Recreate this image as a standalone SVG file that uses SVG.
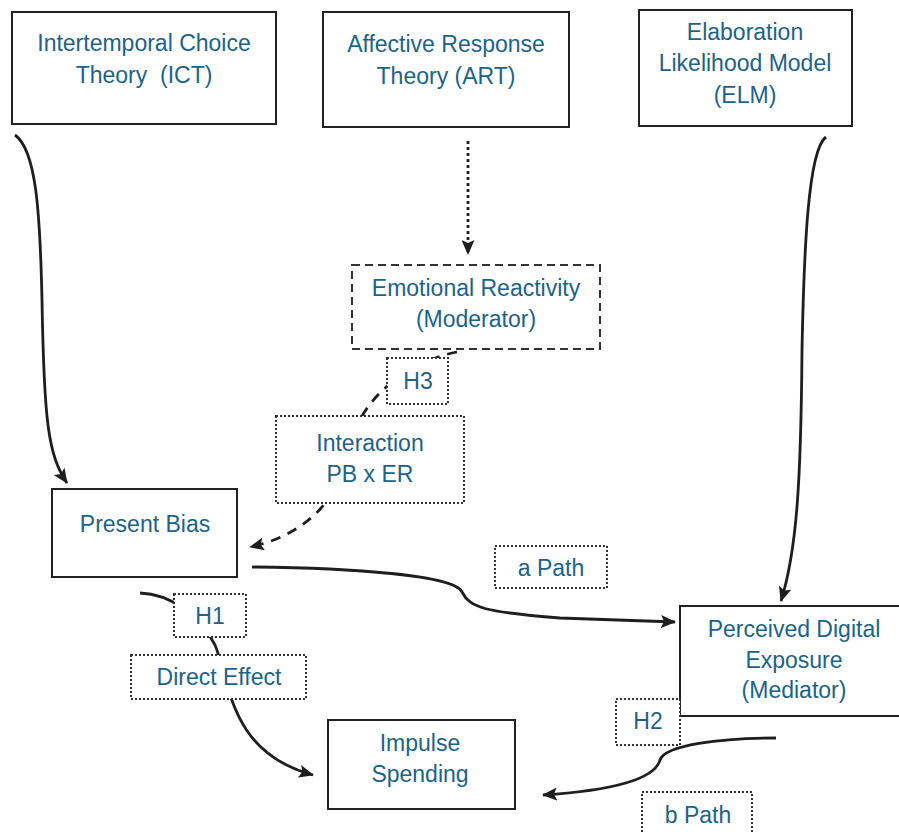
<svg xmlns="http://www.w3.org/2000/svg" width="899" height="832" viewBox="0 0 899 832">
<style>
.box{fill:#fff;stroke:#222;stroke-width:2}
.dash{fill:#fff;stroke:#333;stroke-width:2;stroke-dasharray:8,5}
.dot{fill:#fff;stroke:#333;stroke-width:2;stroke-dasharray:2,2}
.t{font-family:"Liberation Sans",Arial,sans-serif;font-size:23px;fill:#1d6386;text-anchor:middle;dominant-baseline:central}
.c{fill:none;stroke:#1e1e1e;stroke-width:2.8}
</style>
<defs>
<marker id="arr" viewBox="0 0 15 13" refX="14" refY="6.5" markerWidth="15" markerHeight="13" orient="auto" markerUnits="userSpaceOnUse">
<path d="M0,0 L15,6.5 L0,13 L3,6.5 Z" fill="#1e1e1e"/>
</marker>
</defs>
<g id="connectors">
<path class="c" d="M15,135 C36,150 40,210 42,300 C44,420 48,455 67,483" marker-end="url(#arr)"/>
<path class="c" d="M826,137 C808,150 804,250 802,350 C801,480 797,550 781,601" marker-end="url(#arr)"/>
<path class="c" d="M468,141 L468,254" stroke-dasharray="3,3" stroke-width="3" marker-end="url(#arr)"/>
<path class="c" d="M457,352 C405,362 362,400 352,440 C342,500 305,535 250,547" stroke-dasharray="10,8" marker-end="url(#arr)"/>
<path class="c" d="M252,567 C350,568 455,575 462,592 C470,608 485,612 560,618 L675,622" marker-end="url(#arr)"/>
<path class="c" d="M140,593 C170,594 200,615 215,645 C230,680 228,752 313,775" marker-end="url(#arr)"/>
<path class="c" d="M776,738 C720,738 665,745 660,760 C655,778 620,790 543,795" marker-end="url(#arr)"/>
</g>
<g id="ict"><rect class="box" x="12" y="12" width="264" height="112"/><text class="t" x="144" y="43">Intertemporal Choice</text><text class="t" x="144" y="75" xml:space="preserve">Theory  (ICT)</text></g>
<g id="art"><rect class="box" x="323" y="12" width="246" height="115"/><text class="t" x="446" y="44">Affective Response</text><text class="t" x="446" y="76">Theory (ART)</text></g>
<g id="elm"><rect class="box" x="639" y="10" width="213" height="116"/><text class="t" x="745" y="32">Elaboration</text><text class="t" x="745" y="63">Likelihood Model</text><text class="t" x="745" y="95">(ELM)</text></g>
<g id="er"><rect class="dash" x="352" y="265" width="248" height="84"/><text class="t" x="476" y="288">Emotional Reactivity</text><text class="t" x="476" y="319">(Moderator)</text></g>
<g id="h3"><rect class="dot" x="387" y="358" width="61" height="46"/><text class="t" x="418" y="381">H3</text></g>
<g id="interaction"><rect class="dot" x="276" y="416" width="188" height="87"/><text class="t" x="370" y="443">Interaction</text><text class="t" x="370" y="474">PB x ER</text></g>
<g id="pb"><rect class="box" x="52" y="489" width="185" height="88"/><text class="t" x="145" y="524">Present Bias</text></g>
<g id="apath"><rect class="dot" x="495" y="546" width="112" height="42"/><text class="t" x="551" y="568">a Path</text></g>
<g id="pde"><rect class="box" x="680" y="606" width="230" height="110"/><text class="t" x="794" y="629">Perceived Digital</text><text class="t" x="794" y="660">Exposure</text><text class="t" x="794" y="690">(Mediator)</text></g>
<g id="h1"><rect class="dot" x="174" y="594" width="72" height="43"/><text class="t" x="210" y="616">H1</text></g>
<g id="direct"><rect class="dot" x="131" y="655" width="175" height="44"/><text class="t" x="219" y="677">Direct Effect</text></g>
<g id="is"><rect class="box" x="328" y="720" width="187" height="89"/><text class="t" x="420" y="743">Impulse</text><text class="t" x="420" y="774">Spending</text></g>
<g id="h2"><rect class="dot" x="616" y="699" width="64" height="46"/><text class="t" x="648" y="721">H2</text></g>
<g id="bpath"><rect class="dot" x="642" y="792" width="110" height="50"/><text class="t" x="698" y="815">b Path</text></g>
</svg>
